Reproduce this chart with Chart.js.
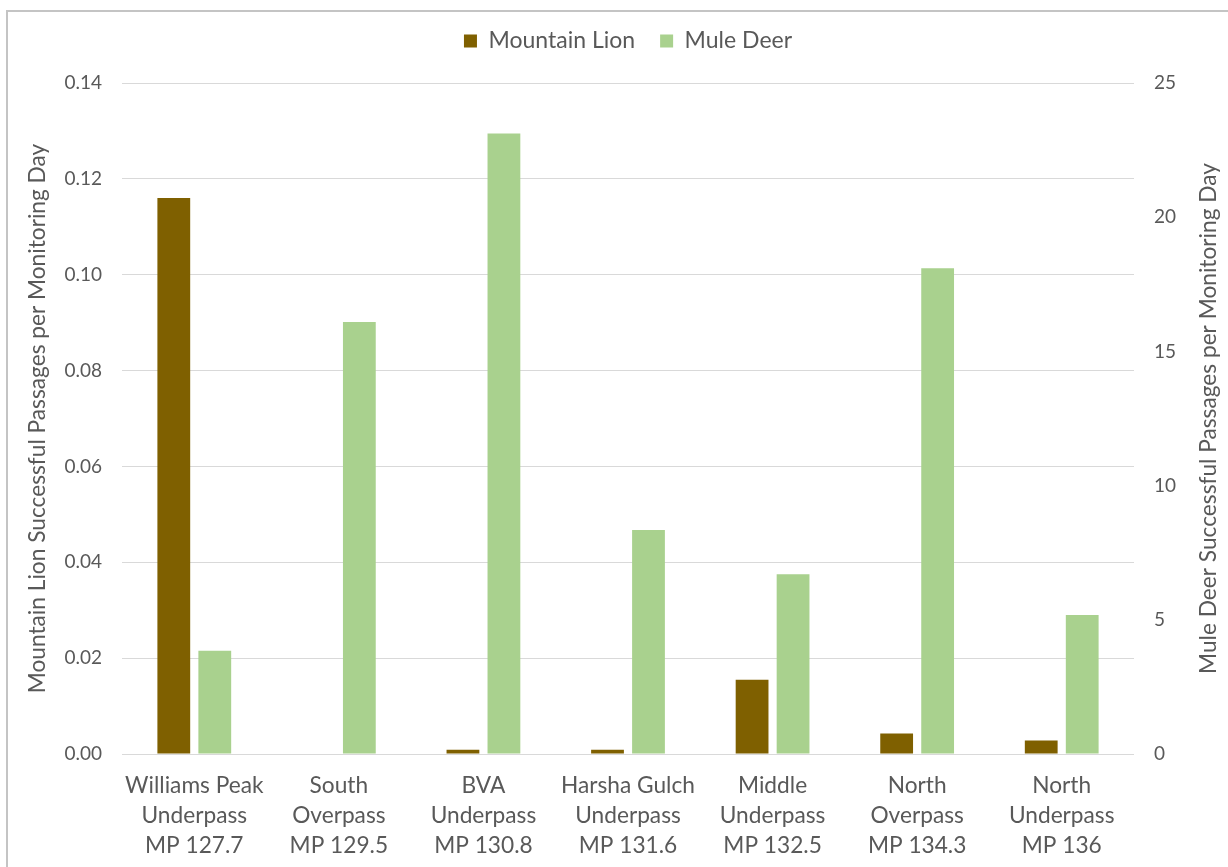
<!DOCTYPE html>
<html>
<head>
<meta charset="utf-8">
<script src="https://cdn.jsdelivr.net/npm/chart.js@4.4.1/dist/chart.umd.min.js"></script>
<style>
  html, body { margin: 0; padding: 0; background: #ffffff; overflow: hidden; }
  #frame { position: absolute; left: 6px; top: 10px; width: 1300px; height: 900px; border: 2px solid #c4c4c4; box-sizing: border-box; }
  #c { position: absolute; left: 0; top: 0; }
</style>
</head>
<body>
<div id="frame"></div>
<canvas id="c" width="1228" height="867"></canvas>
<script>
const categories = [
  ["Williams Peak", "Underpass", "MP 127.7"],
  ["South", "Overpass", "MP 129.5"],
  ["BVA", "Underpass", "MP 130.8"],
  ["Harsha Gulch", "Underpass", "MP 131.6"],
  ["Middle", "Underpass", "MP 132.5"],
  ["North", "Overpass", "MP 134.3"],
  ["North", "Underpass", "MP 136"]
];
const mountainLion = [0.116, 0, 0.0009, 0.0009, 0.0155, 0.0043, 0.0028];
const muleDeer = [3.85, 16.1, 23.12, 8.35, 6.70, 18.1, 5.18];
const leftTitle = "Mountain Lion Successful Passages per Monitoring Day";
const rightTitle = "Mule Deer Successful Passages per Monitoring Day";

const FONT = "Lato, 'Liberation Sans', sans-serif";
const TXT = "#595959";
const TITLE_SIZE = 22.7;

// Right axis title reads bottom-to-top like the left one
const rightTitlePlugin = {
  id: "rightTitle",
  afterDraw(chart) {
    const s = chart.scales.yR;
    const ctx = chart.ctx;
    ctx.save();
    ctx.translate(1209, (s.top + s.bottom) / 2);
    ctx.rotate(-Math.PI / 2);
    ctx.font = TITLE_SIZE + "px " + FONT;
    ctx.fillStyle = TXT;
    ctx.textAlign = "center";
    ctx.textBaseline = "middle";
    ctx.fillText(rightTitle, 0, 0);
    ctx.restore();
  }
};

new Chart(document.getElementById("c"), {
  type: "bar",
  data: {
    labels: categories,
    datasets: [
      { label: "Mountain Lion", data: mountainLion, yAxisID: "yL", backgroundColor: "#7F6000",
        barPercentage: 0.8, categoryPercentage: 0.567 },
      { label: "Mule Deer", data: muleDeer, yAxisID: "yR", backgroundColor: "#A9D18E",
        barPercentage: 0.8, categoryPercentage: 0.567 }
    ]
  },
  plugins: [rightTitlePlugin],
  options: {
    responsive: false,
    animation: false,
    devicePixelRatio: 1,
    layout: { padding: { top: 4.5, left: 0, right: 0, bottom: 0 } },
    plugins: {
      legend: {
        position: "top",
        fullSize: false,
        labels: { boxWidth: 13, boxHeight: 13, padding: 25, color: TXT, font: { family: FONT, size: 23 } }
      },
      title: { display: true, text: "", weight: 500, padding: { top: 0, bottom: 19.5 }, font: { size: 1, lineHeight: 1 } },
      tooltip: { enabled: false }
    },
    scales: {
      x: {
        grid: { display: false, drawTicks: false },
        border: { display: false },
        ticks: { color: TXT, padding: 17, maxRotation: 0, autoSkip: false, font: { family: FONT, size: 22.7, lineHeight: 30 / 22.7 } },
        afterFit: (s) => { s.height = 113; }
      },
      yL: {
        position: "left",
        min: 0, max: 0.14,
        grid: { color: "#d9d9d9", lineWidth: 1, drawTicks: false },
        border: { display: false },
        ticks: { stepSize: 0.02, padding: 20, color: TXT, font: { family: FONT, size: 19 },
          callback: (v) => Number(v).toFixed(2) },
        title: { display: true, text: leftTitle, color: TXT, padding: { top: 24.4, bottom: 0 }, font: { family: FONT, size: TITLE_SIZE } },
        afterFit: (s) => { s.width = 122; }
      },
      yR: {
        position: "right",
        min: 0, max: 25,
        grid: { drawOnChartArea: false, drawTicks: false },
        border: { display: false },
        ticks: { stepSize: 5, padding: 20, color: TXT, font: { family: FONT, size: 19 } },
        title: { display: false, text: rightTitle },
        afterFit: (s) => { s.width = 94; }
      }
    }
  }
});
</script>
</body>
</html>
